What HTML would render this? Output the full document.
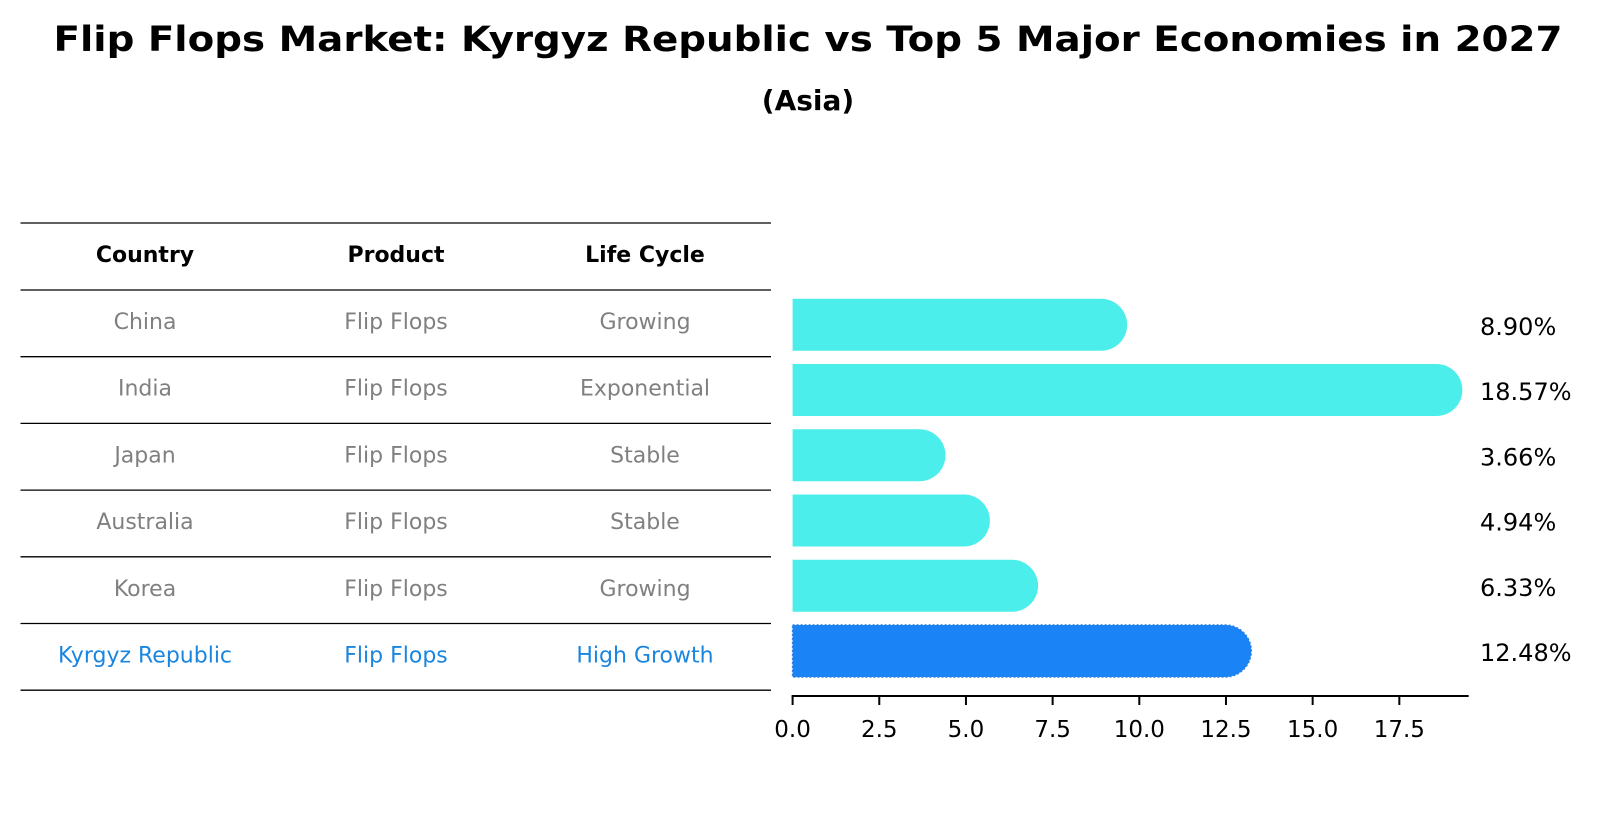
<!DOCTYPE html>
<html><head><meta charset="utf-8"><style>
html,body{margin:0;padding:0;background:#fff;}
svg{display:block;font-family:"DejaVu Sans","Liberation Sans",sans-serif;}
</style></head><body>
<svg id="chart" width="1604" height="823" viewBox="0 0 1604 823" xmlns="http://www.w3.org/2000/svg">
<text x="808" y="51" text-anchor="middle" font-size="35" font-weight="bold" textLength="1509" lengthAdjust="spacingAndGlyphs">Flip Flops Market: Kyrgyz Republic vs Top 5 Major Economies in 2027</text>
<text x="808" y="110" text-anchor="middle" font-size="28" font-weight="bold">(Asia)</text>
<g id="table"></g>
<g id="bars"></g>
<g id="axis"></g>
</svg>
<script>
const countries = ["China","India","Japan","Australia","Korea","Kyrgyz Republic"];
const products = ["Flip Flops","Flip Flops","Flip Flops","Flip Flops","Flip Flops","Flip Flops"];
const lifeCycles = ["Growing","Exponential","Stable","Stable","Growing","High Growth"];
const values = [8.90,18.57,3.66,4.94,6.33,12.48];
const valueLabels = ["8.90%","18.57%","3.66%","4.94%","6.33%","12.48%"];
const tickValues = [0,2.5,5,7.5,10,12.5,15,17.5];
const tickLabels = ["0.0","2.5","5.0","7.5","10.0","12.5","15.0","17.5"];

const NS="http://www.w3.org/2000/svg";
function mk(tag,attrs,parent,text){const e=document.createElementNS(NS,tag);for(const k in attrs)e.setAttribute(k,attrs[k]);if(text!==undefined)e.textContent=text;parent.appendChild(e);return e;}
const x0=792.6, pxPerUnit=34.67, xMax=19.5;
const xs=v=>x0+v*pxPerUnit;
const rowY0=324.75, rowStep=65.25;
const ys=i=>rowY0+i*rowStep;
const barH=52;

// table
const tbl=document.getElementById('table');
const lineYs=[223,290];
for(let i=1;i<=countries.length;i++)lineYs.push(290+i*66.7);
lineYs.forEach((y,i)=>{const l=mk('line',{x1:20.5,x2:771,y1:y,y2:y,stroke:'#000','stroke-width':1.3},tbl);

});
const colX=[145,396,645];
["Country","Product","Life Cycle"].forEach((h,j)=>{const t=mk('text',{x:colX[j],y:262,'text-anchor':'middle','font-size':22,'font-weight':'bold',fill:'#000'},tbl,h);

});
countries.forEach((c,i)=>{
  const hi=i===countries.length-1;
  const fill=hi?'#1a86e0':'#808080';
  const by=329+i*66.7;
  [c,products[i],lifeCycles[i]].forEach((s,j)=>{
    const t=mk('text',{x:colX[j],y:by,'text-anchor':'middle','font-size':22,fill:fill},tbl,s);
    
    
  });
});

// bars
const bars=document.getElementById('bars');
values.forEach((v,i)=>{
  const hi=i===values.length-1;
  const cy=ys(i), r=barH/2, xe=xs(v);
  const d=`M${x0},${cy-r} L${xe},${cy-r} A${r},${r} 0 0 1 ${xe},${cy+r} L${x0},${cy+r} Z`;
  const p=mk('path',{d:d,fill:hi?'#1a83f5':'#4beeea',stroke:hi?'#2a7fe0':'none','stroke-width':hi?1.5:0,'stroke-dasharray':hi?'2 2':'none'},bars);
  
  
  const t=mk('text',{x:1480,y:cy+10,'font-size':24,fill:'#000'},bars,valueLabels[i]);
  
  
});

// axis
const ax=document.getElementById('axis');
const al=mk('line',{x1:x0-1,x2:xs(xMax),y1:696,y2:696,stroke:'#000','stroke-width':2},ax);


tickValues.forEach((v,i)=>{
  const tk=mk('line',{x1:xs(v),x2:xs(v),y1:696,y2:705,stroke:'#000','stroke-width':2},ax);
  
  
  const t=mk('text',{x:xs(v),y:737,'text-anchor':'middle','font-size':23,fill:'#000'},ax,tickLabels[i]);
  
  
});
</script>
</body></html>
